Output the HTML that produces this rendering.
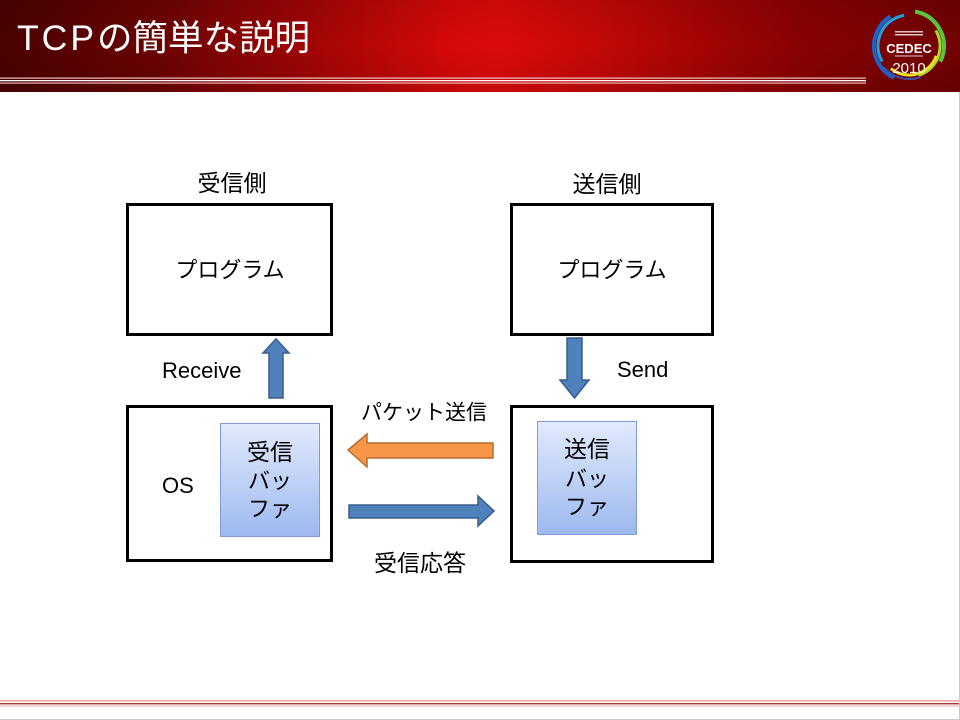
<!DOCTYPE html>
<html>
<head>
<meta charset="utf-8">
<style>
  html,body{margin:0;padding:0;background:#fff;}
  body{width:960px;height:720px;overflow:hidden;position:relative;}
  svg{position:absolute;left:0;top:0;}
  .jp{font-family:"Liberation Sans","Noto Sans CJK JP",sans-serif;}
</style>
</head>
<body>
<svg width="960" height="720" viewBox="0 0 960 720" xmlns="http://www.w3.org/2000/svg">
  <defs>
    <linearGradient id="hdr" x1="0" y1="0" x2="1" y2="0">
      <stop offset="0" stop-color="#4a0202"/>
      <stop offset="0.16" stop-color="#6a0303"/>
      <stop offset="0.32" stop-color="#a00505"/>
      <stop offset="0.47" stop-color="#d60909"/>
      <stop offset="0.52" stop-color="#dc0b0b"/>
      <stop offset="0.62" stop-color="#c50808"/>
      <stop offset="0.74" stop-color="#a20404"/>
      <stop offset="0.84" stop-color="#880202"/>
      <stop offset="1" stop-color="#700202"/>
    </linearGradient>
    <linearGradient id="hdrv" x1="0" y1="0" x2="0" y2="1">
      <stop offset="0" stop-color="#000" stop-opacity="0.08"/>
      <stop offset="0.5" stop-color="#000" stop-opacity="0"/>
      <stop offset="1" stop-color="#000" stop-opacity="0.1"/>
    </linearGradient>
    <linearGradient id="buf" x1="0" y1="0" x2="0" y2="1">
      <stop offset="0" stop-color="#e2eafc"/>
      <stop offset="1" stop-color="#9db9ef"/>
    </linearGradient>
  </defs>

  <!-- Header -->
  <rect x="0" y="0" width="960" height="92" fill="url(#hdr)"/>
  <rect x="0" y="0" width="960" height="92" fill="url(#hdrv)"/>
  <rect x="0" y="77.5" width="866" height="1.2" fill="#f5c2c2"/>
  <rect x="0" y="80" width="866" height="1.3" fill="#ffffff"/>
  <rect x="0" y="82.5" width="866" height="1.2" fill="#f0b4b4"/>

  <text x="17" y="50" class="jp" font-size="35.5" fill="#ffffff"><tspan letter-spacing="3">TCP</tspan>の簡単な説明</text>

  <!-- Logo -->
  <g transform="translate(909,46)">
    <circle r="35" fill="none" stroke="#1c62c8" stroke-width="4" stroke-dasharray="75 150" transform="rotate(115)"/>
    <circle r="31" fill="none" stroke="#22a0d8" stroke-width="3" stroke-dasharray="60 150" transform="rotate(150)"/>
    <circle r="35" fill="none" stroke="#5cc43c" stroke-width="4" stroke-dasharray="65 160" transform="rotate(-80)"/>
    <circle r="31" fill="none" stroke="#a8d830" stroke-width="3" stroke-dasharray="55 150" transform="rotate(-30)"/>
    <circle r="29" fill="none" stroke="#e8e020" stroke-width="3" stroke-dasharray="55 150" transform="rotate(20)"/>
    <circle r="33" fill="none" stroke="#3a4fb0" stroke-width="2" stroke-dasharray="40 170" transform="rotate(70)"/>
    <rect x="-14" y="-15" width="28" height="1.5" fill="#d8c8c8"/>
    <rect x="-14" y="-12" width="28" height="1.5" fill="#d8c8c8"/>
    <text x="0" y="7" text-anchor="middle" font-family="Liberation Sans, sans-serif" font-weight="bold" font-size="13" fill="#ffffff">CEDEC</text>
    <rect x="-14" y="9.5" width="28" height="1" fill="#d8c8c8"/>
    <text x="0" y="27" text-anchor="middle" font-family="Liberation Sans, sans-serif" font-size="15" fill="#ffffff">2010</text>
  </g>

  <!-- Footer lines -->
  <rect x="0" y="700" width="960" height="1.6" fill="#f0a4a4"/>
  <rect x="0" y="703" width="960" height="1.4" fill="#9a3a3a"/>
  <rect x="0" y="705.3" width="960" height="1.2" fill="#f3b6b6"/>
  <rect x="0" y="719" width="960" height="1" fill="#c8c8c8"/>
  <rect x="959" y="92" width="1" height="628" fill="#c8c8c8"/>

  <!-- Section labels -->
  <text x="232" y="183" text-anchor="middle" dominant-baseline="central" class="jp" font-size="23" fill="#000">受信側</text>
  <text x="607" y="184" text-anchor="middle" dominant-baseline="central" class="jp" font-size="23" fill="#000">送信側</text>

  <!-- Program boxes -->
  <rect x="127.5" y="204.5" width="204" height="130" fill="#fff" stroke="#000" stroke-width="3"/>
  <rect x="511.5" y="204.5" width="201" height="130" fill="#fff" stroke="#000" stroke-width="3"/>
  <text x="230" y="270" text-anchor="middle" dominant-baseline="central" class="jp" font-size="22" fill="#000">プログラム</text>
  <text x="612" y="270" text-anchor="middle" dominant-baseline="central" class="jp" font-size="22" fill="#000">プログラム</text>

  <!-- OS boxes -->
  <rect x="127.5" y="406.5" width="204" height="154" fill="#fff" stroke="#000" stroke-width="3"/>
  <rect x="511.5" y="406.5" width="201" height="155" fill="#fff" stroke="#000" stroke-width="3"/>

  <!-- Buffers -->
  <rect x="220.5" y="423.5" width="99" height="113" fill="url(#buf)" stroke="#7d9cd2" stroke-width="1"/>
  <rect x="537.5" y="421.5" width="99" height="113" fill="url(#buf)" stroke="#7d9cd2" stroke-width="1"/>

  <text x="270" y="452" text-anchor="middle" dominant-baseline="central" class="jp" font-size="23" fill="#000">受信</text>
  <text x="270" y="481" text-anchor="middle" dominant-baseline="central" class="jp" font-size="22" fill="#000">バッ</text>
  <text x="270" y="509" text-anchor="middle" dominant-baseline="central" class="jp" font-size="22" fill="#000">ファ</text>

  <text x="587" y="449" text-anchor="middle" dominant-baseline="central" class="jp" font-size="23" fill="#000">送信</text>
  <text x="587" y="479" text-anchor="middle" dominant-baseline="central" class="jp" font-size="22" fill="#000">バッ</text>
  <text x="587" y="507" text-anchor="middle" dominant-baseline="central" class="jp" font-size="22" fill="#000">ファ</text>

  <!-- Latin labels -->
  <text x="162" y="378" font-family="Liberation Sans, sans-serif" font-size="22" fill="#000">Receive</text>
  <text x="617" y="377" font-family="Liberation Sans, sans-serif" font-size="22" fill="#000">Send</text>
  <text x="162" y="493" font-family="Liberation Sans, sans-serif" font-size="22" fill="#000">OS</text>

  <!-- Arrows -->
  <polygon points="276,339 289,353 283,353 283,398 269,398 269,353 263,353" fill="#4f81bd" stroke="#385d8a" stroke-width="1.5"/>
  <polygon points="567,338 582,338 582,380 589,380 574.5,398 560,380 567,380" fill="#4f81bd" stroke="#385d8a" stroke-width="1.5"/>
  <polygon points="348,450 367,434 367,443 493,443 493,458 367,458 367,467" fill="#f79646" stroke="#b66d31" stroke-width="1.5"/>
  <polygon points="349,505 478,505 478,496 494,511 478,526 478,518 349,518" fill="#4f81bd" stroke="#385d8a" stroke-width="1.5"/>

  <text x="424" y="413" text-anchor="middle" dominant-baseline="central" class="jp" font-size="21" fill="#000">パケット送信</text>
  <text x="420" y="563" text-anchor="middle" dominant-baseline="central" class="jp" font-size="23" fill="#000">受信応答</text>
</svg>
</body>
</html>
